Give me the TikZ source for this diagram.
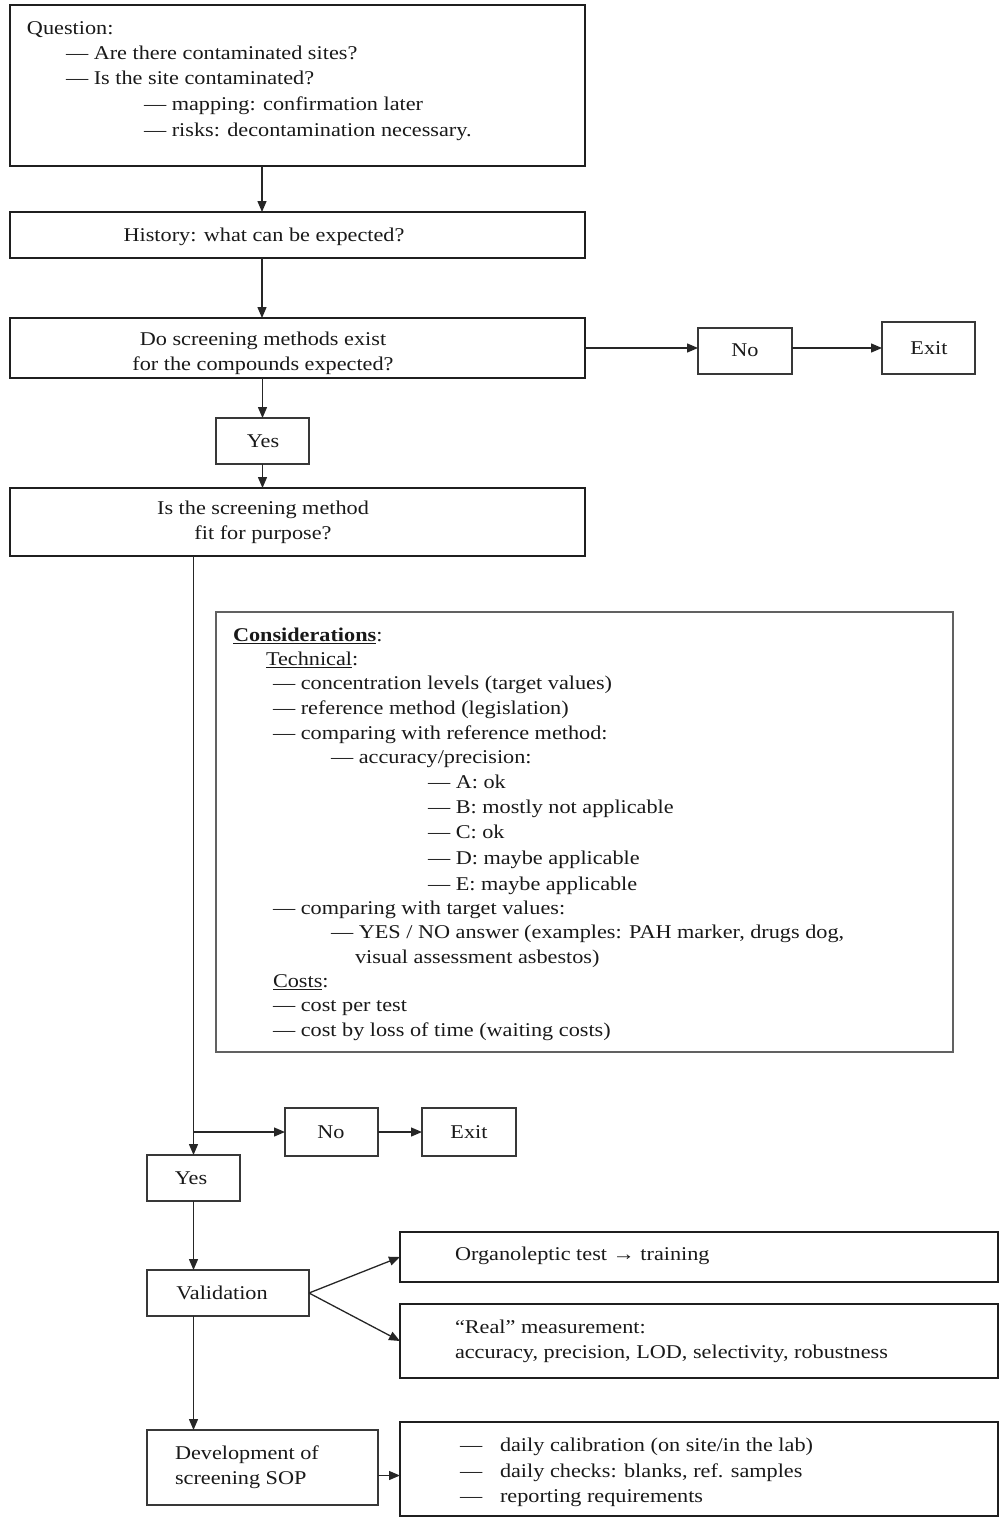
\documentclass[tikz,border=0pt]{standalone}
\usepackage{fontspec}
\setmainfont[FakeStretch=1.14]{Liberation Serif}
\usetikzlibrary{arrows.meta}
\newcommand\bx[6]{\node[#2, minimum width={(#5-#3)*1pt}, minimum height={(#6-#4)*1pt}] (#1) at ({(#3+#5)/2},{(#4+#6)/2}) {};}
\begin{document}
\begin{tikzpicture}[x=1pt,y=-1pt,
  every node/.style={inner sep=0pt, outer sep=0pt, text=black!90, font=\fontsize{19.5}{23}\selectfont},
  thickbox/.style={draw=black!88, line width=2.8pt},
  thinbox/.style={draw=black!78, line width=1.4pt},
  midbox/.style={draw=black!62, line width=1.7pt},
  arr/.style={draw=black!85, line width=1.3pt, -{Triangle[length=11pt,width=9pt]}},
  ln/.style={anchor=mid west, yshift=-4pt},
  ct/.style={anchor=mid, yshift=-4pt}]
\useasboundingbox (0,0) rectangle (1002,1518);
% boxes
\bx{q}{thickbox}{10}{5}{585}{166}
\bx{hist}{thickbox}{10}{212}{585}{258}
\bx{scr}{thickbox}{10}{318}{585}{378}
\bx{no1}{thinbox}{698}{328}{792}{374}
\bx{exit1}{thinbox}{882}{322}{975}{374}
\bx{yes1}{thinbox}{216}{418}{309}{464}
\bx{fit}{thickbox}{10}{488}{585}{556}
\bx{cons}{midbox}{216}{612}{953}{1052}
\bx{no2}{thinbox}{285}{1108}{378}{1156}
\bx{exit2}{thinbox}{422}{1108}{516}{1156}
\bx{yes2}{thinbox}{147}{1155}{240}{1201}
\bx{val}{thinbox}{147}{1270}{309}{1316}
\bx{org}{thickbox}{400}{1232}{998}{1282}
\bx{real}{thickbox}{400}{1304}{998}{1378}
\bx{dev}{thinbox}{147}{1430}{378}{1505}
\bx{sop}{thickbox}{400}{1422}{998}{1516}
% texts
\node[ln] (qt1) at (27,28) {Question:};
\node[ln] (qt2) at (66,53) {— Are there contaminated sites?};
\node[ln] (qt3) at (66,78) {— Is the site contaminated?};
\node[ln] (qt4) at (144,104) {— mapping: confirmation later};
\node[ln] (qt5) at (144,130) {— risks: decontamination necessary.};
\node[ct] (ht) at (264,235) {History: what can be expected?};
\node[ct] (st1) at (263,339) {Do screening methods exist};
\node[ct] (st2) at (263,364) {for the compounds expected?};
\node[ct] (no1t) at (745,350) {No};
\node[ct] (exit1t) at (929,348) {Exit};
\node[ct] (yes1t) at (263,441) {Yes};
\node[ct] (ft1) at (263,508) {Is the screening method};
\node[ct] (ft2) at (263,533) {fit for purpose?};
\node[ln] (c0) at (233,635) {\textbf{\underline{Considerations}}:};
\node[ln] (c1) at (266,659) {\underline{Technical}:};
\foreach \x/\y/\t in {273/683/{— concentration levels (target values)},
  273/708/{— reference method (legislation)},
  273/733/{— comparing with reference method:},
  331/757/{— accuracy/precision:},
  428/782/{— A: ok},
  428/807/{— B: mostly not applicable},
  428/832/{— C: ok},
  428/858/{— D: maybe applicable},
  428/884/{— E: maybe applicable},
  273/908/{— comparing with target values:},
  331/932/{— YES / NO answer (examples: PAH marker, drugs dog,},
  355/957/{visual assessment asbestos)},
  273/1005/{— cost per test},
  273/1030/{— cost by loss of time (waiting costs)}}
  {\node[ln] (cl\y) at (\x,\y) {\t};}
\node[ln] (c2) at (273,981) {\underline{Costs}:};
\node[ct] (no2t) at (331,1132) {No};
\node[ct] (exit2t) at (469,1132) {Exit};
\node[ct] (yes2t) at (191,1178) {Yes};
\node[ct] (valt) at (222,1293) {Validation};
\node[ln] (devt1) at (175,1453) {Development of};
\node[ln] (devt2) at (175,1478) {screening SOP};
\node[ln] (orgt) at (455,1254) {Organoleptic test → training};
\node[ln] (realt1) at (455,1327) {“Real” measurement:};
\node[ln] (realt2) at (455,1352) {accuracy, precision, LOD, selectivity, robustness};
\foreach \y/\t in {1445/{daily calibration (on site/in the lab)},
  1471/{daily checks: blanks, ref. samples},
  1496/{reporting requirements}}
  {\node[ln] (sd\y) at (460,\y) {—};
   \node[ln] (st\y) at (500,\y) {\t};}
% connectors
\coordinate (cx) at (262,0);
\draw[arr] (q.south -| cx) -- (hist.north -| cx);
\draw[arr] (hist.south -| cx) -- (scr.north -| cx);
\draw[arr] (scr.south -| yes1) -- (yes1.north);
\draw[arr] (yes1.south) -- (fit.north -| yes1);
\draw[arr] (scr.east) -- (no1.west |- scr.east);
\draw[arr] (no1.east |- scr.east) -- (exit1.west |- scr.east);
\draw[arr] (fit.south -| yes2) -- (yes2.north);
\draw[arr] (yes2 |- no2) -- (no2.west);
\draw[arr] (no2.east) -- (exit2.west);
\draw[arr] (yes2.south) -- (val.north -| yes2);
\draw[arr] (val.south -| yes2) -- (dev.north -| yes2);
\draw[arr] (val.east) -- (org.west);
\draw[arr] (val.east) -- (real.west);
\draw[arr] ([yshift=-8pt]dev.east) -- ([yshift=-8pt]dev.east -| sop.west);
\end{tikzpicture}
\end{document}
